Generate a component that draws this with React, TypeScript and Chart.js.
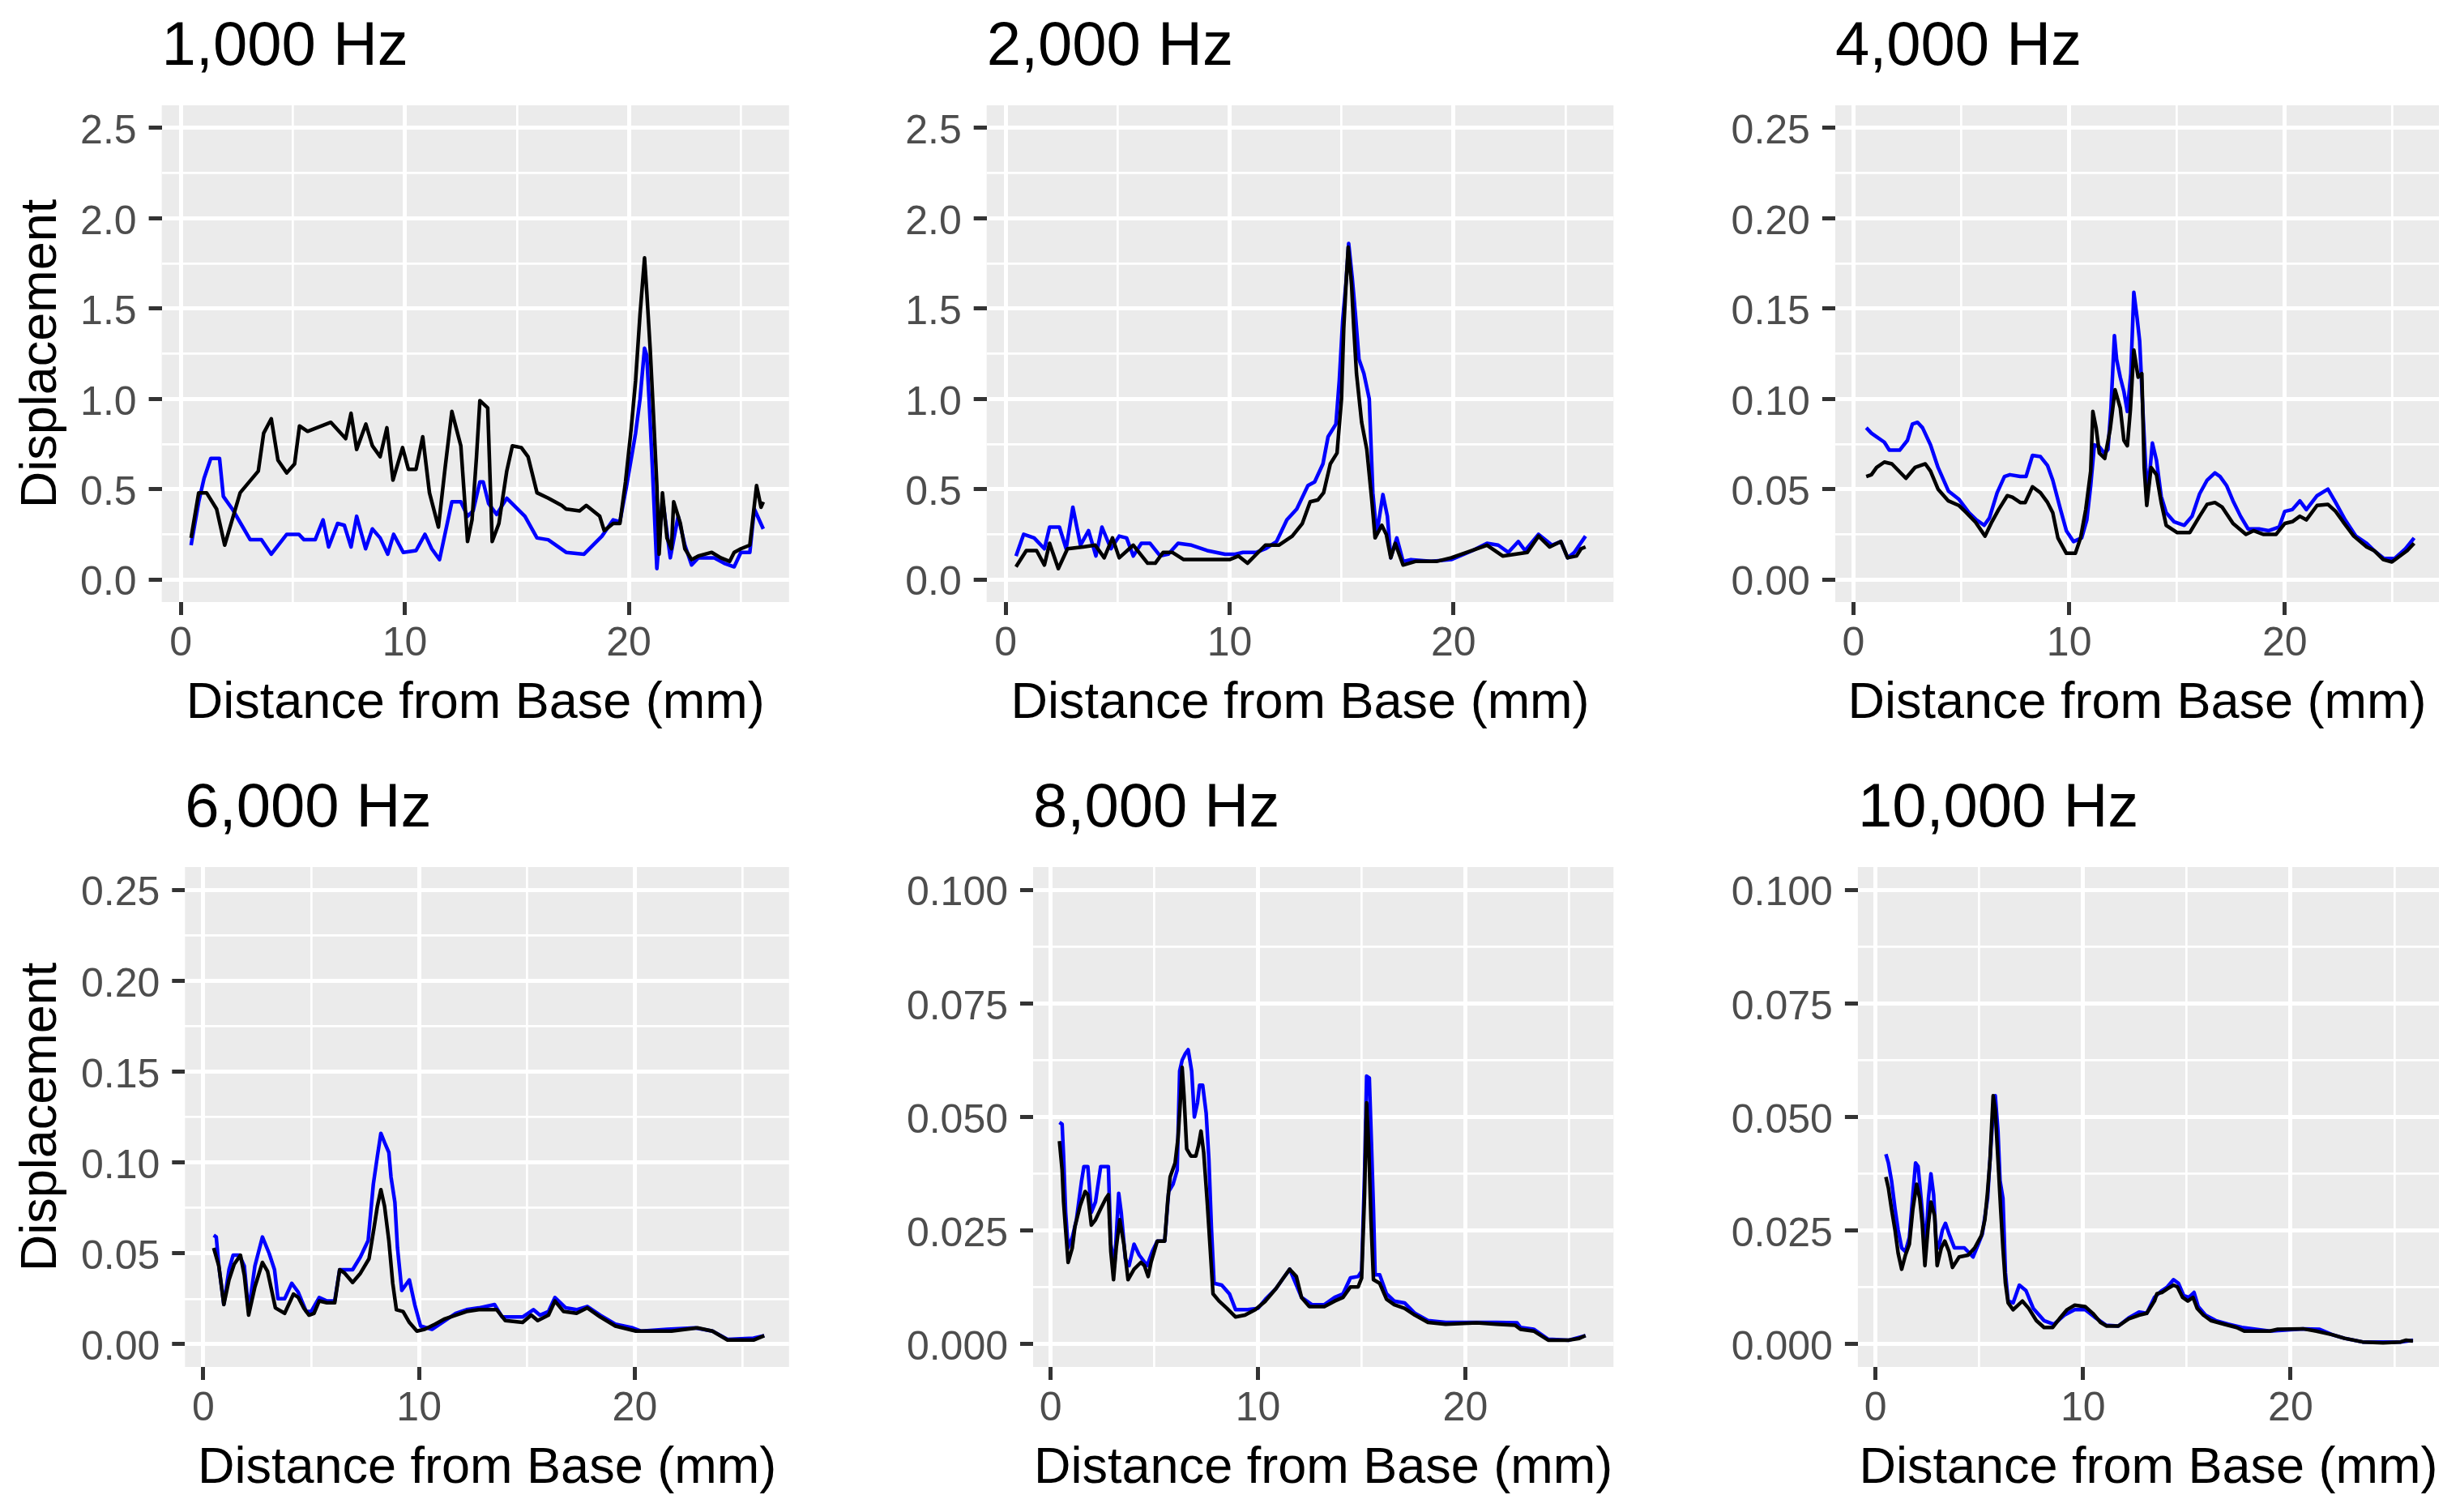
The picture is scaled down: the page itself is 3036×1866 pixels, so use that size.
import React, { useEffect, useRef } from "react";
import { Chart, registerables } from "chart.js";

Chart.register(...registerables);

// ---------------- data ----------------
const panelTitles = ["1,000 Hz", "2,000 Hz", "4,000 Hz", "6,000 Hz", "8,000 Hz", "10,000 Hz"];
const xAxisTitle = "Distance from Base (mm)";
const yAxisTitle = "Displacement";

const xTickValues = [0, 5, 10, 15, 20, 25];
const xTickLabels = ["0", "", "10", "", "20", ""];

const yTickValuesA = [0, 0.25, 0.5, 0.75, 1, 1.25, 1.5, 1.75, 2, 2.25, 2.5];
const yTickLabelsA = ["0.0", "", "0.5", "", "1.0", "", "1.5", "", "2.0", "", "2.5"];
const yTickValuesB = [0, 0.025, 0.05, 0.075, 0.1, 0.125, 0.15, 0.175, 0.2, 0.225, 0.25];
const yTickLabelsB = ["0.00", "", "0.05", "", "0.10", "", "0.15", "", "0.20", "", "0.25"];
const yTickValuesC = [0, 0.0125, 0.025, 0.0375, 0.05, 0.0625, 0.075, 0.0875, 0.1];
const yTickLabelsC = ["0.000", "", "0.025", "", "0.050", "", "0.075", "", "0.100"];

// 1,000 Hz
const p1BlackX = [0.46,0.8,1.15,1.6,1.96,2.65,3.46,3.7,4.04,4.34,4.73,5.08,5.3,5.66,6.7,7.36,7.6,7.85,8.26,8.55,8.9,9.2,9.47,9.9,10.16,10.5,10.8,11.1,11.5,11.8,12.1,12.5,12.8,13.0,13.2,13.35,13.7,13.9,14.2,14.55,14.8,15.2,15.5,15.9,16.4,17.0,17.2,17.8,18.1,18.7,18.9,19.3,19.6,19.85,20.1,20.3,20.5,20.7,20.8,20.95,21.1,21.25,21.35,21.5,21.7,21.9,22.0,22.3,22.5,22.8,23.1,23.7,24.1,24.5,24.7,25.0,25.4,25.6,25.7,25.9,26.0];
const p1BlackY = [0.23,0.48,0.48,0.39,0.19,0.48,0.6,0.81,0.89,0.66,0.59,0.64,0.85,0.82,0.87,0.78,0.92,0.72,0.86,0.74,0.68,0.84,0.55,0.73,0.61,0.61,0.79,0.48,0.29,0.62,0.93,0.74,0.21,0.33,0.68,0.99,0.95,0.21,0.31,0.6,0.74,0.73,0.68,0.48,0.45,0.41,0.39,0.38,0.41,0.35,0.27,0.31,0.31,0.54,0.83,1.1,1.47,1.78,1.59,1.28,0.91,0.52,0.14,0.48,0.23,0.17,0.43,0.31,0.17,0.11,0.13,0.15,0.12,0.1,0.15,0.17,0.19,0.41,0.52,0.4,0.43];
const p1BlueX = [0.46,0.8,1.04,1.34,1.73,1.9,2.3,2.77,3.1,3.6,4.04,4.73,5.27,5.5,6.0,6.35,6.6,7.0,7.3,7.6,7.85,8.25,8.55,8.9,9.24,9.5,9.93,10.5,10.9,11.2,11.55,12.1,12.5,12.8,13.05,13.35,13.5,13.74,14.1,14.55,15.36,15.9,16.4,17.2,18.0,18.8,19.3,19.6,19.9,20.15,20.3,20.5,20.7,20.8,20.9,21.05,21.25,21.5,21.85,22.2,22.5,22.8,23.1,23.8,24.25,24.7,25.0,25.4,25.6,26.0];
const p1BlueY = [0.19,0.43,0.56,0.67,0.67,0.46,0.39,0.29,0.22,0.22,0.14,0.25,0.25,0.22,0.22,0.33,0.18,0.31,0.3,0.18,0.35,0.17,0.28,0.23,0.14,0.25,0.15,0.16,0.25,0.17,0.11,0.43,0.43,0.35,0.38,0.54,0.54,0.42,0.36,0.45,0.35,0.23,0.22,0.15,0.14,0.24,0.33,0.32,0.52,0.7,0.81,1.0,1.28,1.24,1.0,0.62,0.06,0.45,0.12,0.35,0.19,0.08,0.12,0.12,0.09,0.07,0.15,0.15,0.39,0.28];

// 2,000 Hz
const p2BlackX = [0.46,0.92,1.38,1.73,1.96,2.35,2.76,3.46,4.0,4.4,4.77,5.07,5.7,6.34,6.68,7.03,7.44,7.95,10.0,10.4,10.8,11.6,12.2,12.8,13.25,13.6,13.94,14.2,14.5,14.8,15.0,15.1,15.2,15.3,15.45,15.55,15.67,15.9,16.13,16.36,16.5,16.8,17.0,17.2,17.4,17.75,18.3,19.24,19.9,20.6,21.5,22.2,23.3,23.8,24.3,24.8,25.1,25.5,25.7,25.9];
const p2BlackY = [0.07,0.16,0.16,0.08,0.2,0.06,0.17,0.18,0.19,0.12,0.23,0.12,0.19,0.09,0.09,0.15,0.15,0.11,0.11,0.13,0.09,0.19,0.19,0.24,0.31,0.43,0.44,0.48,0.64,0.7,1.0,1.39,1.63,1.84,1.63,1.39,1.14,0.87,0.72,0.43,0.23,0.3,0.25,0.12,0.2,0.08,0.1,0.1,0.12,0.15,0.19,0.13,0.15,0.24,0.18,0.21,0.12,0.13,0.17,0.18];
const p2BlueX = [0.46,0.8,1.27,1.73,1.96,2.4,2.7,3.0,3.34,3.7,4.03,4.3,4.7,5.07,5.4,5.7,6.06,6.45,6.9,7.26,7.7,8.3,9.0,9.8,10.25,10.6,11.2,11.6,12.1,12.56,13.0,13.5,13.8,14.17,14.4,14.75,14.9,15.05,15.2,15.32,15.48,15.62,15.78,16.0,16.24,16.4,16.57,16.85,17.05,17.2,17.47,17.75,18.1,19.0,19.9,20.85,21.5,22.0,22.45,22.9,23.2,23.8,24.4,24.8,25.1,25.4,25.9];
const p2BlueY = [0.13,0.25,0.23,0.17,0.29,0.29,0.17,0.4,0.19,0.27,0.13,0.29,0.17,0.24,0.23,0.13,0.2,0.2,0.13,0.14,0.2,0.19,0.16,0.14,0.14,0.15,0.15,0.17,0.21,0.33,0.39,0.52,0.54,0.64,0.79,0.86,1.1,1.43,1.64,1.86,1.67,1.47,1.22,1.14,1.0,0.48,0.25,0.47,0.35,0.12,0.23,0.1,0.11,0.1,0.11,0.16,0.2,0.19,0.15,0.21,0.16,0.25,0.19,0.21,0.12,0.15,0.24];

// 4,000 Hz
const p3BlackX = [0.59,0.83,1.07,1.43,1.78,2.43,2.85,3.33,3.57,3.92,4.4,4.88,5.23,5.64,6.1,6.42,6.73,7.13,7.37,7.73,7.96,8.3,8.67,9.0,9.24,9.48,9.87,10.29,10.53,10.77,11.0,11.1,11.25,11.4,11.65,11.9,12.13,12.37,12.54,12.7,12.84,13.0,13.2,13.37,13.48,13.6,13.8,14.05,14.27,14.5,15.0,15.6,16.05,16.4,16.76,17.1,17.6,18.2,18.55,19.0,19.6,20.0,20.35,20.7,21.0,21.5,22.0,22.36,22.7,23.2,23.8,24.14,24.57,24.97,25.3,25.68,26.0];
const p3BlackY = [0.057,0.058,0.062,0.065,0.064,0.056,0.062,0.064,0.06,0.05,0.0435,0.041,0.037,0.032,0.024,0.032,0.0387,0.0464,0.0455,0.0426,0.0426,0.0513,0.048,0.0426,0.037,0.023,0.0145,0.0145,0.023,0.0387,0.06,0.093,0.084,0.07,0.067,0.083,0.105,0.095,0.077,0.074,0.094,0.127,0.112,0.114,0.062,0.041,0.062,0.058,0.0426,0.03,0.026,0.026,0.035,0.0416,0.0426,0.04,0.031,0.025,0.027,0.025,0.025,0.031,0.032,0.035,0.033,0.041,0.0416,0.0377,0.032,0.024,0.018,0.016,0.011,0.0097,0.0126,0.016,0.02];
const p3BlueX = [0.59,0.83,1.07,1.43,1.66,2.14,2.5,2.73,2.97,3.2,3.57,3.92,4.4,4.88,5.35,5.7,6.06,6.3,6.66,7.0,7.25,7.73,8.0,8.3,8.67,9.0,9.24,9.6,9.87,10.2,10.58,10.82,11.0,11.17,11.4,11.65,11.8,11.94,12.1,12.2,12.37,12.54,12.7,12.86,13.0,13.15,13.27,13.43,13.55,13.67,13.86,14.05,14.27,14.5,14.86,15.34,15.7,16.05,16.4,16.76,17.0,17.3,17.6,17.95,18.3,18.8,19.26,19.74,20.0,20.35,20.7,21.0,21.5,22.0,22.36,22.8,23.3,23.8,24.14,24.6,25.1,25.6,26.0];
const p3BlueY = [0.084,0.081,0.079,0.076,0.0716,0.0716,0.077,0.086,0.087,0.084,0.0745,0.062,0.049,0.0445,0.037,0.033,0.03,0.034,0.048,0.057,0.058,0.057,0.057,0.0687,0.068,0.063,0.055,0.0387,0.027,0.021,0.023,0.033,0.052,0.0745,0.0735,0.0697,0.072,0.095,0.135,0.122,0.112,0.104,0.093,0.114,0.159,0.145,0.132,0.091,0.062,0.05,0.0755,0.066,0.046,0.037,0.032,0.03,0.035,0.0474,0.055,0.059,0.057,0.052,0.0435,0.035,0.028,0.028,0.027,0.029,0.0377,0.0387,0.0435,0.0387,0.0464,0.05,0.0426,0.033,0.024,0.02,0.016,0.0116,0.0116,0.017,0.023];

// 6,000 Hz
const p4BlackX = [0.48,0.72,0.95,1.19,1.43,1.72,1.9,2.1,2.39,2.74,2.98,3.34,3.77,4.18,4.4,4.65,4.9,5.13,5.37,5.73,6.09,6.32,6.56,6.92,7.28,7.68,7.92,8.07,8.23,8.4,8.6,8.78,8.95,9.26,9.55,9.9,10.26,10.74,11.2,11.7,12.2,12.77,13.6,14.0,14.8,15.2,15.5,16.0,16.3,16.7,17.3,17.8,18.4,19.1,20.05,21.7,22.9,23.6,24.3,25.5,26.0];
const p4BlackY = [0.053,0.043,0.0218,0.0354,0.044,0.049,0.038,0.016,0.0315,0.045,0.04,0.02,0.017,0.0276,0.0257,0.02,0.016,0.017,0.0238,0.0228,0.0228,0.041,0.039,0.034,0.039,0.047,0.0646,0.076,0.085,0.076,0.057,0.0335,0.019,0.018,0.012,0.0072,0.0082,0.011,0.014,0.016,0.018,0.019,0.019,0.013,0.012,0.016,0.013,0.016,0.0238,0.018,0.017,0.02,0.015,0.01,0.0072,0.0072,0.009,0.0072,0.0023,0.0023,0.0047];
const p4BlueX = [0.48,0.6,0.72,0.95,1.19,1.38,1.67,1.9,2.1,2.39,2.74,3.05,3.3,3.46,3.77,4.1,4.4,4.77,5.0,5.37,5.73,6.09,6.32,6.92,7.28,7.64,7.88,8.07,8.23,8.4,8.6,8.7,8.88,9.0,9.2,9.55,9.8,10.07,10.6,11.2,11.7,12.2,12.77,13.5,13.85,14.8,15.3,15.6,16.0,16.3,16.8,17.3,17.8,18.4,19.1,19.9,20.3,21.5,22.8,23.6,24.3,25.5,26.0];
const p4BlueY = [0.06,0.059,0.043,0.022,0.041,0.049,0.049,0.043,0.018,0.043,0.059,0.05,0.041,0.025,0.025,0.0335,0.0286,0.018,0.018,0.0257,0.0238,0.0238,0.041,0.041,0.048,0.057,0.088,0.1036,0.116,0.111,0.1055,0.092,0.078,0.053,0.0296,0.0354,0.0218,0.01,0.0082,0.013,0.017,0.019,0.02,0.0218,0.015,0.015,0.019,0.016,0.018,0.0257,0.02,0.019,0.0208,0.016,0.011,0.009,0.0072,0.0082,0.009,0.0072,0.0027,0.0033,0.0047];

// 8,000 Hz
const p5BlackX = [0.42,0.55,0.62,0.72,0.84,1.04,1.17,1.42,1.66,1.79,1.96,2.16,2.41,2.66,2.78,2.9,3.03,3.16,3.33,3.53,3.73,4.02,4.35,4.52,4.7,4.84,5.14,5.5,5.64,5.76,6.0,6.14,6.26,6.34,6.43,6.56,6.76,7.0,7.13,7.25,7.38,7.55,7.68,7.83,8.12,8.5,8.92,9.37,9.87,10.36,10.86,11.23,11.53,11.85,12.1,12.47,13.2,13.7,14.1,14.46,14.83,15.0,15.14,15.24,15.34,15.45,15.57,15.87,16.2,16.57,17.07,17.57,18.2,19.05,20.55,21.5,22.4,22.66,23.3,24.0,25.0,25.5,25.8];
const p5BlackY = [0.0447,0.0383,0.0313,0.0251,0.018,0.0212,0.0259,0.0305,0.0336,0.0329,0.0262,0.0274,0.0298,0.0321,0.0329,0.0204,0.0142,0.0212,0.0274,0.022,0.0142,0.0165,0.018,0.0173,0.0149,0.018,0.0227,0.0227,0.0313,0.0368,0.0399,0.0453,0.0539,0.0609,0.0547,0.043,0.0414,0.0414,0.0438,0.0469,0.0422,0.0313,0.022,0.0111,0.0095,0.0079,0.006,0.0064,0.0076,0.0095,0.0122,0.0146,0.0165,0.0149,0.0103,0.0083,0.0083,0.0095,0.0103,0.0126,0.0126,0.0146,0.0329,0.0531,0.0438,0.0274,0.0142,0.0134,0.0099,0.0087,0.0079,0.0064,0.0048,0.0044,0.0047,0.0044,0.0042,0.0033,0.0029,0.0009,0.0009,0.0013,0.0019];
const p5BlueX = [0.42,0.55,0.62,0.72,0.84,1.04,1.24,1.49,1.6,1.79,1.96,2.16,2.41,2.78,2.9,3.08,3.28,3.4,3.6,3.78,4.02,4.27,4.65,4.9,5.14,5.5,5.69,5.9,6.1,6.22,6.34,6.5,6.63,6.8,6.93,7.08,7.18,7.33,7.5,7.63,7.75,7.88,8.25,8.62,8.92,9.5,10.0,10.36,10.86,11.23,11.53,12.1,12.6,13.2,13.7,14.1,14.46,14.83,15.0,15.14,15.24,15.37,15.47,15.57,15.65,15.87,16.2,16.57,17.07,17.57,18.2,19.05,20.55,21.5,22.5,22.66,23.3,24.0,25.0,25.8];
const p5BlueY = [0.0488,0.0484,0.0414,0.029,0.0212,0.0235,0.0274,0.036,0.0391,0.0391,0.029,0.0313,0.0391,0.0391,0.022,0.0173,0.0332,0.029,0.0188,0.0173,0.022,0.0196,0.0173,0.0204,0.0227,0.0227,0.0336,0.0352,0.0383,0.0601,0.0625,0.064,0.0648,0.0601,0.05,0.0531,0.057,0.057,0.0508,0.0407,0.0259,0.0134,0.013,0.0111,0.0076,0.0076,0.0079,0.0099,0.0122,0.0146,0.0165,0.0103,0.0087,0.0087,0.0103,0.0111,0.0146,0.0149,0.0161,0.0375,0.059,0.0586,0.0446,0.0298,0.0153,0.0153,0.0111,0.0095,0.0091,0.0068,0.0052,0.0048,0.0048,0.0048,0.0047,0.0037,0.0033,0.0011,0.0009,0.0019];

// 10,000 Hz
const p6BlackX = [0.5,0.62,0.77,0.94,1.09,1.26,1.44,1.63,1.8,1.98,2.13,2.25,2.38,2.55,2.67,2.85,2.97,3.17,3.34,3.54,3.71,4.03,4.46,4.78,5.1,5.27,5.4,5.52,5.6,5.67,5.77,5.9,6.04,6.14,6.26,6.39,6.63,7.08,7.38,7.75,8.12,8.54,8.86,9.23,9.6,10.1,10.47,10.84,11.14,11.7,12.2,12.7,13.07,13.44,13.56,13.8,14.06,14.36,14.55,14.8,15.05,15.3,15.5,15.8,16.16,16.8,17.4,17.77,19.0,19.38,20.6,21.24,22.0,22.6,23.47,24.46,25.3,25.57,25.9];
const p6BlackY = [0.0368,0.0344,0.0298,0.0251,0.02,0.0165,0.0196,0.022,0.0298,0.0352,0.0321,0.0266,0.0173,0.0266,0.0313,0.0282,0.0173,0.0212,0.0227,0.0204,0.0169,0.0192,0.0196,0.0212,0.0239,0.0274,0.0336,0.0407,0.0484,0.0547,0.0515,0.0407,0.029,0.0212,0.0134,0.0091,0.0076,0.0095,0.0079,0.0052,0.0037,0.0037,0.0056,0.0076,0.0086,0.0083,0.0068,0.0048,0.004,0.004,0.0056,0.0064,0.0068,0.0095,0.0111,0.0114,0.0122,0.013,0.0126,0.0103,0.0095,0.0103,0.0079,0.0064,0.0052,0.0044,0.0037,0.0029,0.0029,0.0033,0.0034,0.0029,0.0021,0.0013,0.0005,0.0003,0.0005,0.0009,0.0007];
const p6BlueX = [0.5,0.62,0.77,0.94,1.09,1.26,1.44,1.63,1.8,1.93,2.05,2.18,2.3,2.43,2.55,2.67,2.8,2.92,3.04,3.22,3.37,3.54,3.8,4.28,4.7,4.95,5.15,5.4,5.54,5.64,5.77,5.9,6.0,6.14,6.26,6.39,6.63,6.93,7.25,7.6,8.12,8.6,9.1,9.6,10.1,10.55,11.1,11.7,12.2,12.7,13.07,13.44,13.8,14.06,14.36,14.6,14.85,15.1,15.35,15.55,15.9,16.4,17.0,17.65,19.0,20.6,21.4,22.0,22.6,23.47,25.3,25.9];
const p6BlueY = [0.0418,0.0399,0.036,0.0298,0.0251,0.0212,0.0204,0.0235,0.0329,0.0399,0.0391,0.0329,0.0266,0.0227,0.0321,0.0375,0.0329,0.0227,0.0212,0.0251,0.0266,0.0243,0.0212,0.0212,0.0192,0.022,0.0243,0.0321,0.0422,0.0492,0.0547,0.0469,0.036,0.0321,0.0157,0.0095,0.0091,0.013,0.0118,0.0079,0.0052,0.0044,0.0064,0.0076,0.0076,0.006,0.0042,0.004,0.0058,0.0071,0.0068,0.0103,0.0118,0.0126,0.0142,0.0134,0.0107,0.0103,0.0114,0.0083,0.0064,0.0052,0.0044,0.0037,0.0029,0.0034,0.0033,0.0021,0.0013,0.0005,0.0005,0.0009];

// ---------------- layout / style ----------------
const FONT = "'Liberation Sans', Arial, Helvetica, sans-serif";
const X_MIN = -0.85;
const X_MAX = 27.15;
const TITLE_SIZE = 76;
const TITLE_PAD_TOP = 20.7;
const TITLE_PAD_BOTTOM = 33.3;
const AXIS_TITLE_SIZE = 63;
const TICK_SIZE = 50;
const TICK_LEN = 16;
const X_AXIS_H = 168;
const LINE_W = 4.5;
const GRID_MAJOR_W = 5;
const GRID_MINOR_W = 2.7;
const TICK_W = 5;

type PanelDef = {
  title: string;
  blackX: number[]; blackY: number[]; blueX: number[]; blueY: number[];
  yVals: number[]; yLabels: string[]; yMin: number; yMax: number;
  left: number; top: number; width: number; height: number;
  yAxisW: number; padRight: number; showYTitle: boolean;
};

const rangeA = [-0.125, 2.625];
const rangeB = [-0.0125, 0.2625];
const rangeC = [-0.005, 0.105];

const panels: PanelDef[] = [
  { title: panelTitles[0], blackX: p1BlackX, blackY: p1BlackY, blueX: p1BlueX, blueY: p1BlueY,
    yVals: yTickValuesA, yLabels: yTickLabelsA, yMin: rangeA[0], yMax: rangeA[1],
    left: 0, top: 0, width: 984, height: 911, yAxisW: 199.6, padRight: 984 - 973.8, showYTitle: true },
  { title: panelTitles[1], blackX: p2BlackX, blackY: p2BlackY, blueX: p2BlueX, blueY: p2BlueY,
    yVals: yTickValuesA, yLabels: yTickLabelsA, yMin: rangeA[0], yMax: rangeA[1],
    left: 1010, top: 0, width: 992, height: 911, yAxisW: 207.7, padRight: 992 - 981.3, showYTitle: false },
  { title: panelTitles[2], blackX: p3BlackX, blackY: p3BlackY, blueX: p3BlueX, blueY: p3BlueY,
    yVals: yTickValuesB, yLabels: yTickLabelsB, yMin: rangeB[0], yMax: rangeB[1],
    left: 2040, top: 0, width: 980, height: 911, yAxisW: 224.9, padRight: 10, showYTitle: false },
  { title: panelTitles[3], blackX: p4BlackX, blackY: p4BlackY, blueX: p4BlueX, blueY: p4BlueY,
    yVals: yTickValuesB, yLabels: yTickLabelsB, yMin: rangeB[0], yMax: rangeB[1],
    left: 0, top: 940, width: 984, height: 915, yAxisW: 228.3, padRight: 984 - 973.8, showYTitle: true },
  { title: panelTitles[4], blackX: p5BlackX, blackY: p5BlackY, blueX: p5BlueX, blueY: p5BlueY,
    yVals: yTickValuesC, yLabels: yTickLabelsC, yMin: rangeC[0], yMax: rangeC[1],
    left: 1010, top: 940, width: 992, height: 915, yAxisW: 265, padRight: 992 - 981.3, showYTitle: false },
  { title: panelTitles[5], blackX: p6BlackX, blackY: p6BlackY, blueX: p6BlueX, blueY: p6BlueY,
    yVals: yTickValuesC, yLabels: yTickLabelsC, yMin: rangeC[0], yMax: rangeC[1],
    left: 2040, top: 940, width: 980, height: 915, yAxisW: 252.9, padRight: 10, showYTitle: false },
];

function zip(xs: number[], ys: number[]) {
  const n = Math.min(xs.length, ys.length);
  const out: { x: number; y: number }[] = [];
  for (let i = 0; i < n; i++) out.push({ x: xs[i], y: ys[i] });
  return out;
}

const panelBg = {
  id: "panelBg",
  beforeDraw(chart: any) {
    const { ctx, chartArea } = chart;
    if (!chartArea) return;
    ctx.save();
    ctx.fillStyle = "#EBEBEB";
    ctx.fillRect(chartArea.left, chartArea.top, chartArea.right - chartArea.left, chartArea.bottom - chartArea.top);
    ctx.restore();
  },
};

function Panel({ p }: { p: PanelDef }) {
  const ref = useRef<HTMLCanvasElement>(null);
  useEffect(() => {
    if (!ref.current) return;
    const xMajor = (i: number) => xTickLabels[i] !== "";
    const yMajor = (i: number) => p.yLabels[i] !== "";
    const chart = new Chart(ref.current, {
      type: "line",
      data: {
        datasets: [
          {
            label: "black",
            data: zip(p.blackX, p.blackY),
            borderColor: "#000000",
            backgroundColor: "#000000",
            borderWidth: LINE_W,
            pointRadius: 0,
            tension: 0,
            fill: false,
            borderJoinStyle: "round",
          },
          {
            label: "blue",
            data: zip(p.blueX, p.blueY),
            borderColor: "#0000FF",
            backgroundColor: "#0000FF",
            borderWidth: LINE_W,
            pointRadius: 0,
            tension: 0,
            fill: false,
            borderJoinStyle: "round",
          },
        ],
      },
      options: {
        animation: false,
        responsive: false,
        events: [],
        layout: { padding: { left: 0, top: 0, bottom: 0, right: p.padRight } },
        plugins: {
          legend: { display: false },
          tooltip: { enabled: false },
          title: {
            display: true,
            text: p.title,
            align: "start",
            fullSize: false,
            color: "#000000",
            font: { family: FONT, size: TITLE_SIZE, weight: "normal", lineHeight: 1 },
            padding: { top: TITLE_PAD_TOP, bottom: TITLE_PAD_BOTTOM },
          },
        },
        scales: {
          x: {
            type: "linear",
            min: X_MIN,
            max: X_MAX,
            afterBuildTicks: (s: any) => {
              s.ticks = xTickValues.map((v) => ({ value: v }));
            },
            afterFit: (s: any) => {
              s.height = X_AXIS_H;
            },
            border: { display: false },
            grid: {
              color: "#FFFFFF",
              lineWidth: (c: any) => (xMajor(c.index) ? GRID_MAJOR_W : GRID_MINOR_W),
              drawTicks: true,
              tickLength: TICK_LEN,
              tickWidth: TICK_W,
              tickColor: (c: any) => (xMajor(c.index) ? "#333333" : "rgba(0,0,0,0)"),
            },
            ticks: {
              autoSkip: false,
              maxRotation: 0,
              minRotation: 0,
              padding: 11.7,
              color: "#4D4D4D",
              font: { family: FONT, size: TICK_SIZE, lineHeight: 1 },
              callback: (_v: any, i: number) => xTickLabels[i],
            },
            title: {
              display: true,
              text: xAxisTitle,
              color: "#000000",
              font: { family: FONT, size: AXIS_TITLE_SIZE, lineHeight: 1 },
              padding: { top: 0, bottom: 11.3 },
            },
          },
          y: {
            type: "linear",
            min: p.yMin,
            max: p.yMax,
            afterBuildTicks: (s: any) => {
              s.ticks = p.yVals.map((v) => ({ value: v }));
            },
            afterFit: (s: any) => {
              s.width = p.yAxisW;
            },
            border: { display: false },
            grid: {
              color: "#FFFFFF",
              lineWidth: (c: any) => (yMajor(c.index) ? GRID_MAJOR_W : GRID_MINOR_W),
              drawTicks: true,
              tickLength: TICK_LEN,
              tickWidth: TICK_W,
              tickColor: (c: any) => (yMajor(c.index) ? "#333333" : "rgba(0,0,0,0)"),
            },
            ticks: {
              autoSkip: false,
              padding: 15,
              labelOffset: 5.5,
              color: "#4D4D4D",
              font: { family: FONT, size: TICK_SIZE, lineHeight: 1 },
              callback: (_v: any, i: number) => p.yLabels[i],
            },
            title: {
              display: p.showYTitle,
              text: yAxisTitle,
              color: "#000000",
              font: { family: FONT, size: AXIS_TITLE_SIZE, lineHeight: 1 },
              padding: { top: 19.7, bottom: 0 },
            },
          },
        },
      } as any,
      plugins: [panelBg],
    });
    return () => chart.destroy();
  }, [p]);
  return (
    <canvas
      ref={ref}
      width={p.width}
      height={p.height}
      style={{ position: "absolute", left: p.left, top: p.top, width: p.width, height: p.height }}
    />
  );
}

export default function App() {
  return (
    <div
      style={{
        position: "absolute",
        left: 0,
        top: 0,
        width: 3036,
        height: 1866,
        background: "#FFFFFF",
        overflow: "hidden",
      }}
    >
      {panels.map((p, i) => (
        <Panel key={i} p={p} />
      ))}
    </div>
  );
}
